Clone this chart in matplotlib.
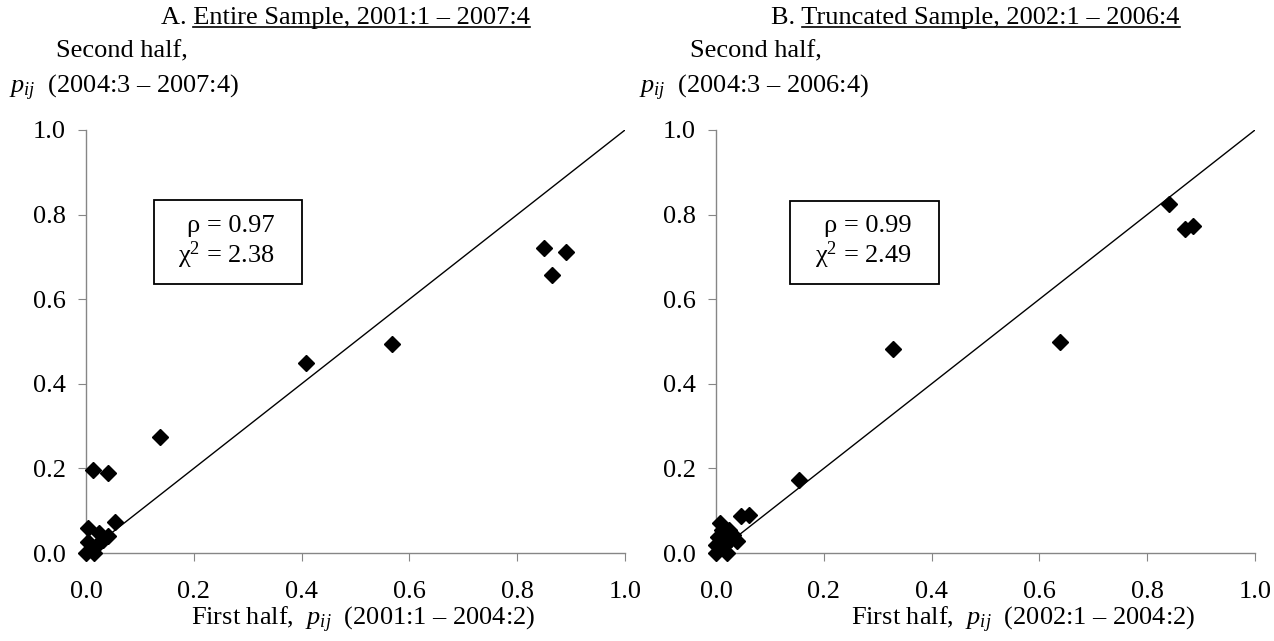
import numpy as np
import matplotlib
matplotlib.use("Agg")
import matplotlib.pyplot as plt
from matplotlib.lines import Line2D

plt.rcParams["font.family"] = ["Liberation Serif", "DejaVu Serif"]
plt.rcParams["mathtext.fontset"] = "custom"
plt.rcParams["mathtext.rm"] = "Liberation Serif"
plt.rcParams["mathtext.it"] = "Liberation Serif:italic"

# Panel A: entire sample
a_first = [0.849, 0.890, 0.864, 0.568, 0.408, 0.137, 0.013, 0.041, 0.054,
           0.004, 0.003, 0.000, 0.015, 0.025, 0.040, 0.020, 0.010, 0.032]
a_second = [0.721, 0.711, 0.658, 0.493, 0.448, 0.274, 0.196, 0.188, 0.073,
            0.059, 0.026, 0.000, 0.000, 0.047, 0.040, 0.020, 0.010, 0.030]

# Panel B: truncated sample
b_first = [0.841, 0.871, 0.885, 0.638, 0.328, 0.154, 0.047, 0.061,
           0.007, 0.011, 0.025, 0.032, 0.039, 0.004, 0.000, 0.000, 0.021, 0.014, 0.028]
b_second = [0.826, 0.767, 0.773, 0.500, 0.483, 0.172, 0.088, 0.090,
            0.071, 0.055, 0.055, 0.043, 0.028, 0.039, 0.020, 0.000, 0.000, 0.016, 0.032]

panels = [
    dict(x=a_first, y=a_second, title_pre="A. ", title="Entire Sample, 2001:1 \u2013 2007:4",
         ylab="(2004:3 \u2013 2007:4)", xlab="(2001:1 \u2013 2004:2)",
         rho="0.97", chi="2.38", box=(0.126, 0.637, 0.274, 0.197),
         tdx=-10, xdx=8, sdx=-30),
    dict(x=b_first, y=b_second, title_pre="B. ", title="Truncated Sample, 2002:1 \u2013 2006:4",
         ylab="(2004:3 \u2013 2006:4)", xlab="(2002:1 \u2013 2004:2)",
         rho="0.99", chi="2.49", box=(0.137, 0.637, 0.276, 0.196),
         tdx=-10, xdx=38, sdx=-26),
]

FS = 19
W, H = 1274, 641
fig = plt.figure(figsize=(W / 100, H / 100), dpi=100)

ax_left = [86, 716]
ax_w = 539
ax_top, ax_bot = 130, 553

fig.canvas.draw()
renderer = fig.canvas.get_renderer()

for i, p in enumerate(panels):
    x0 = ax_left[i]
    ax = fig.add_axes([x0 / W, 1 - ax_bot / H, ax_w / W, (ax_bot - ax_top) / H])
    ax.set_xlim(0, 1)
    ax.set_ylim(0, 1)
    ax.plot([0, 1], [0, 1], color="black", lw=1)
    ax.plot(p["x"], p["y"], linestyle="none", marker="D", ms=8,
            color="black", clip_on=False, zorder=3)
    for s in ["top", "right"]:
        ax.spines[s].set_visible(False)
    for s in ["left", "bottom"]:
        ax.spines[s].set_color("#868686")
        ax.spines[s].set_linewidth(1)
    ticks = np.arange(0, 1.01, 0.2)
    ax.set_xticks(ticks)
    ax.set_yticks(ticks)
    ax.set_xticklabels([f"{t:.1f}" for t in ticks])
    ax.set_yticklabels([f"{t:.1f}" for t in ticks])
    ax.tick_params(direction="out", length=5.5, color="#868686", labelsize=FS)
    ax.tick_params(axis="y", pad=9)
    ax.tick_params(axis="x", pad=15)

    bx, by, bw, bh = p["box"]
    ax.add_patch(plt.Rectangle((bx, by), bw, bh, fill=False, edgecolor="black",
                               lw=1.3, transform=ax.transAxes))
    ax.text(bx + bw * 0.82, by + bh * 0.69, "\u03c1 = " + p["rho"], ha="right",
            va="center", fontsize=FS, transform=ax.transAxes)
    ax.text(bx + bw * 0.82, by + bh * 0.34, "\u03c7$^{2}$ = " + p["chi"], ha="right",
            va="center", fontsize=FS, transform=ax.transAxes)

    # title with underlined part
    cx = (x0 + ax_w / 2 + p["tdx"]) / W
    ty = 1 - 18 / H
    t = fig.text(cx, ty, p["title_pre"] + p["title"], ha="center", va="center", fontsize=FS)
    tmp = fig.text(0, 0, p["title_pre"], fontsize=FS)
    fig.canvas.draw()
    bb = t.get_window_extent(renderer)
    pre_w = tmp.get_window_extent(renderer).width
    tmp.remove()
    uy = (bb.y0 + 2) / H
    fig.add_artist(Line2D([(bb.x0 + pre_w) / W, bb.x1 / W], [uy, uy],
                          color="black", lw=1.2, transform=fig.transFigure))

    # y label
    fig.text((x0 + p["sdx"]) / W, 1 - 51 / H, "Second half,", ha="left", va="center", fontsize=FS)
    fig.text((x0 - 77) / W, 1 - 88 / H, r"$p_{ij}$  " + p["ylab"], ha="left",
             va="center", fontsize=FS)
    # x label
    fig.text((x0 + ax_w / 2 + p["xdx"]) / W, 1 - 620 / H,
             r"First half,  $p_{ij}$  " + p["xlab"],
             ha="center", va="center", fontsize=FS)

fig.savefig("out.png", dpi=100, facecolor="white")
